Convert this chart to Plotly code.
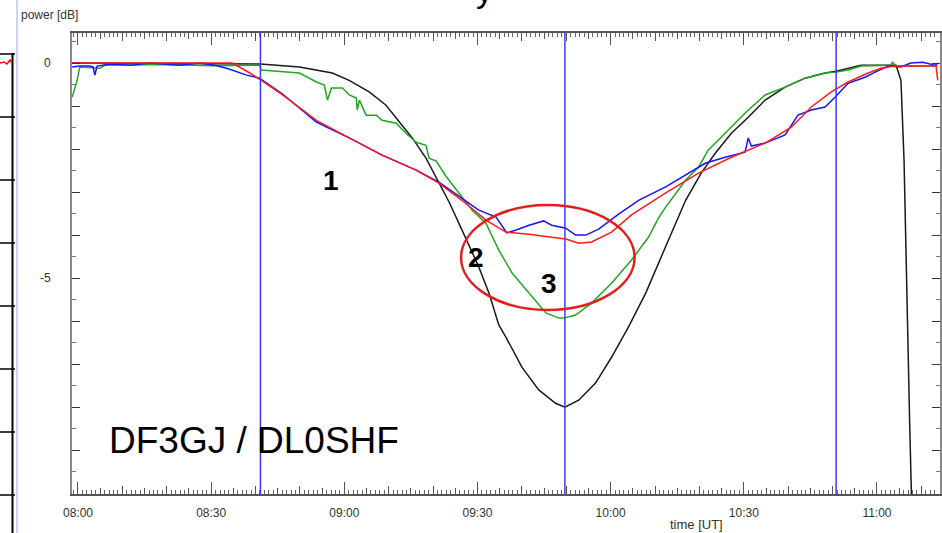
import plotly.graph_objects as go
import pandas as pd

BASE = pd.Timestamp("2015-03-20 08:00:00")


def t(mins):
    return [BASE + pd.Timedelta(minutes=float(m)) for m in mins]


# ---- data (minutes after 08:00 UT, power in dB) ----
black_min = [-1.3, 41.1, 49.9, 57.3, 61.1, 65.6, 69.4, 72.4, 75.3, 78.4, 81.3, 83.6, 85.8,
             90.3, 92.6, 94.8, 96.4, 100.0, 103.8, 107.6, 109.7, 112.8, 116.6, 120.2, 124.0,
             127.9, 133.0, 136.9, 140.4, 143.6, 147.2, 151.0, 154.8, 159.3, 163.8, 168.3,
             170.8, 176.4, 184.3, 185.4, 186.1, 186.7, 187.4, 187.9]
black_db = [0.0, -0.02, -0.09, -0.23, -0.40, -0.67, -0.98, -1.37, -1.74, -2.21, -2.77, -3.23,
            -3.72, -4.74, -5.35, -6.09, -6.37, -7.07, -7.60, -7.91, -8.0, -7.84, -7.44, -6.84,
            -6.14, -5.35, -4.12, -3.19, -2.56, -2.09, -1.63, -1.26, -0.86, -0.56, -0.35, -0.23,
            -0.19, -0.05, -0.05, -0.40, -2.26, -5.51, -8.53, -10.6]

green_min = [-1.3, -0.2, 0.4, 4.9, 6.1, 20.0, 30.0, 40.9, 41.3, 49.9, 53.7, 55.5, 56.2, 57.1,
             59.6, 61.1, 62.7, 62.9, 63.4, 64.9, 67.2, 68.5, 71.7, 73.9, 76.2, 78.4, 79.1,
             80.7, 82.9, 86.5, 88.8, 91.9, 94.8, 97.8, 101.6, 105.4, 108.3, 109.4, 112.1,
             115.7, 120.2, 124.7, 128.5, 130.8, 132.4, 136.9, 139.8, 142.0, 144.3, 147.2,
             150.3, 154.8, 159.3, 163.8, 168.3, 170.8, 173.5, 176.4, 183.1, 183.5, 184.3,
             193.7]
green_db = [-0.79, -0.40, -0.09, -0.12, -0.05, -0.03, -0.06, -0.05, -0.16, -0.23, -0.44,
            -0.51, -0.86, -0.58, -0.58, -0.74, -0.81, -1.09, -0.86, -1.21, -1.21, -1.33,
            -1.40, -1.63, -1.84, -1.91, -2.21, -2.28, -2.63, -3.12, -3.42, -3.72, -4.35,
            -4.88, -5.35, -5.81, -5.93, -5.93, -5.86, -5.58, -5.12, -4.58, -4.05, -3.60,
            -3.35, -2.72, -2.42, -2.02, -1.79, -1.49, -1.16, -0.74, -0.56, -0.35, -0.23,
            -0.21, -0.16, -0.07, -0.05, 0.02, -0.07, -0.07]

blue_min = [-1.3, 0.4, 2.7, 3.4, 3.8, 4.3, 7.2, 12.0, 16.2, 22.9, 27.4, 30.8, 33.5, 38.0,
            40.9, 46.1, 48.3, 53.7, 56.0, 61.1, 68.5, 76.2, 81.3, 86.5, 90.3, 94.2, 96.6,
            98.7, 101.6, 104.9, 106.7, 109.9, 112.1, 114.4, 117.3, 121.8, 126.3, 132.4,
            136.9, 141.3, 145.8, 150.3, 151.0, 151.7, 154.8, 159.3, 162.2, 165.2, 168.3,
            170.6, 173.5, 177.3, 179.6, 182.5, 185.4, 187.6, 190.3, 193.1, 193.7]
blue_db = [-0.09, -0.07, -0.07, -0.09, -0.28, -0.07, -0.02, -0.05, 0.0, -0.05, 0.0, -0.05,
           -0.12, -0.28, -0.35, -0.72, -0.91, -1.37, -1.49, -1.74, -2.14, -2.49, -2.77,
           -3.14, -3.42, -3.58, -3.95, -3.88, -3.77, -3.67, -3.77, -3.84, -4.0, -4.0, -3.86,
           -3.51, -3.19, -2.88, -2.60, -2.33, -2.19, -2.07, -1.74, -1.93, -1.86, -1.67,
           -1.21, -1.09, -1.02, -0.79, -0.47, -0.33, -0.21, -0.07, -0.09, 0.0, 0.02, -0.05,
           0.0]

red_min = [-1.3, 34.8, 38.7, 41.3, 46.1, 53.7, 61.1, 68.5, 76.2, 81.3, 86.5, 91.9, 96.4,
           101.6, 106.7, 109.9, 112.8, 115.7, 120.2, 124.7, 132.4, 139.8, 147.2, 154.8,
           160.7, 165.2, 169.7, 173.5, 178.0, 180.9, 184.0, 193.3, 193.7]
red_db = [0.0, 0.0, -0.23, -0.40, -0.74, -1.33, -1.74, -2.14, -2.49, -2.79, -3.19, -3.65,
          -3.93, -3.98, -4.05, -4.09, -4.19, -4.16, -3.93, -3.53, -3.02, -2.56, -2.19, -1.86,
          -1.49, -1.02, -0.67, -0.44, -0.23, -0.12, -0.07, -0.07, -0.40]

contact_min = [41.1, 109.7, 170.8]          # eclipse begin / maximum / end
x_range_min = [-1.35, 194.2]
y_range = [-10.02, 0.70]
ytick_vals = [0, -1, -2, -3, -4, -5, -6, -7, -8, -9, -10]
ytick_text = ["0", "", "", "", "", "-5", "", "", "", "", ""]
xtick_min = list(range(0, 200, 10))
xtick_text = [f"{8 + m // 60:02d}:{m % 60:02d}" if m % 30 == 0 else "" for m in xtick_min]

label_text = ["1", "2", "3"]
label_min = [57.1, 89.7, 106.1]
label_db = [-2.72, -4.53, -5.12]
station_text = "DF3GJ / DL0SHF"
station_pos = (6.5, -8.77)
ellipse_min = (86.3, 125.4)
ellipse_db = (-3.30, -5.74)

fig = go.Figure()

series = [
    (black_min, black_db, "#1a1a1a"),
    (green_min, green_db, "#20a820"),
    (blue_min, blue_db, "#1515ff"),
    (red_min, red_db, "#ff1a1a"),
]
for xm, yv, col in series:
    fig.add_trace(go.Scatter(x=t(xm), y=yv, mode="lines",
                             line=dict(color=col, width=1.5), showlegend=False,
                             hoverinfo="skip"))

# contact lines (on overlay axis x2 so that axis is drawn)
for m in contact_min:
    fig.add_trace(go.Scatter(x=t([m, m]), y=y_range, mode="lines", xaxis="x2",
                             line=dict(color="#3a3aff", width=1.5), showlegend=False,
                             hoverinfo="skip"))
fig.add_trace(go.Scatter(x=t([0]), y=[0], mode="markers", xaxis="x3",
                         marker=dict(opacity=0), showlegend=False, hoverinfo="skip"))

xr = t(x_range_min)
tickfont = dict(family="Liberation Sans, Arial, sans-serif", size=12, color="#333333")

fig.update_layout(
    width=942, height=533,
    margin=dict(l=72, r=2, t=33, b=39, autoexpand=False),
    paper_bgcolor="white", plot_bgcolor="white",
    font=dict(family="Liberation Sans, Arial, sans-serif", color="#333333"),
    xaxis=dict(
        range=xr, tickmode="array", tickvals=t(xtick_min), ticktext=xtick_text,
        ticks="inside", ticklen=8, tickcolor="#555555", tickwidth=1, automargin=False,
        showline=True, linecolor="#555555", linewidth=1.5, mirror="ticks",
        showgrid=False, zeroline=False, tickfont=tickfont, ticklabelstandoff=7,
        minor=dict(ticks="inside", dtick=60000, tick0=t([0])[0], ticklen=4,
                   tickcolor="#666666", showgrid=False),
    ),
    xaxis2=dict(
        range=xr, overlaying="x", anchor="y", tickmode="linear", tick0=t([0])[0],
        dtick=300000, ticks="inside", ticklen=6, tickcolor="#555555", automargin=False,
        showticklabels=False, showline=False, showgrid=False, zeroline=False,
        mirror="ticks",
    ),
    xaxis3=dict(
        range=xr, overlaying="x", anchor="y", tickmode="linear", tick0=t([0])[0],
        dtick=1800000, ticks="inside", ticklen=12, tickcolor="#555555", automargin=False,
        showticklabels=False, showline=False, showgrid=False, zeroline=False,
        mirror="ticks",
    ),
    yaxis=dict(
        range=y_range, tickmode="array", tickvals=ytick_vals, ticktext=ytick_text,
        ticks="inside", ticklen=8, tickcolor="#333333", automargin=False,
        showline=True, linecolor="#888888", linewidth=2, mirror="ticks",
        showgrid=False, zeroline=False, tickfont=tickfont, ticklabelstandoff=17,
        minor=dict(ticks="inside", dtick=0.5, tick0=0, ticklen=4, tickcolor="#777777",
                   showgrid=False),
    ),
)

# red ellipse
fig.add_shape(type="circle", xref="x", yref="y",
              x0=t([ellipse_min[0]])[0], x1=t([ellipse_min[1]])[0],
              y0=ellipse_db[0], y1=ellipse_db[1],
              line=dict(color="#e31e1e", width=2.5))

# numbered labels
for txt, m, d in zip(label_text, label_min, label_db):
    fig.add_annotation(x=t([m])[0], y=d, text=f"<b>{txt}</b>", showarrow=False,
                       font=dict(family="Liberation Sans, Arial", size=28, color="black"))
fig.add_annotation(x=t([station_pos[0]])[0], y=station_pos[1], text=station_text,
                   showarrow=False, xanchor="left",
                   font=dict(family="Liberation Sans, Arial", size=37, color="black"))


# ---- helpers: pixel -> paper ----
def px(xp):
    return (xp - 72) / 868.0


def py(yp):
    return (494 - yp) / 461.0


# axis titles
fig.add_annotation(xref="paper", yref="paper", x=px(19), y=py(15), xanchor="left",
                   yanchor="middle", text="power [dB]", showarrow=False,
                   font=dict(family="Liberation Sans, Arial", size=12, color="#333333"))
fig.add_annotation(xref="paper", yref="paper", x=px(696), y=py(534), xanchor="center",
                   yanchor="bottom", text="time [UT]", showarrow=False,
                   font=dict(family="Liberation Sans, Arial", size=13, color="#333333"))
# cut-off title fragment at the very top (only the descender of a "y" is visible)
fig.add_annotation(xref="paper", yref="paper", x=px(484), y=py(11), xanchor="center",
                   yanchor="bottom", text="y", showarrow=False,
                   font=dict(family="Liberation Sans, Arial", size=34, color="black"))

# ---- fragments of the neighbouring panel on the far left ----
fig.add_shape(type="line", xref="paper", yref="paper", x0=px(17), x1=px(17),
              y0=py(0), y1=py(533), line=dict(color="#b8c8f0", width=1.5))
fig.add_shape(type="line", xref="paper", yref="paper", x0=px(12.5), x1=px(12.5),
              y0=py(53), y1=py(533), line=dict(color="black", width=2))
for yy in [54, 117, 180, 243, 306, 369, 432, 495]:
    fig.add_shape(type="line", xref="paper", yref="paper", x0=px(0), x1=px(15),
                  y0=py(yy), y1=py(yy), line=dict(color="black", width=1.5))
red_path = "M {} {} L {} {} L {} {} L {} {} L {} {}".format(
    px(0), py(63), px(4), py(62), px(7), py(64), px(10), py(60), px(12), py(63))
fig.add_shape(type="path", xref="paper", yref="paper", path=red_path,
              line=dict(color="red", width=1.5))

# the page's default 8px body margin would shift the figure; remove it
fig.write_html("out.html",
               config={"displayModeBar": False},
               post_script="document.body.style.margin='0';document.body.style.overflow='hidden';")
